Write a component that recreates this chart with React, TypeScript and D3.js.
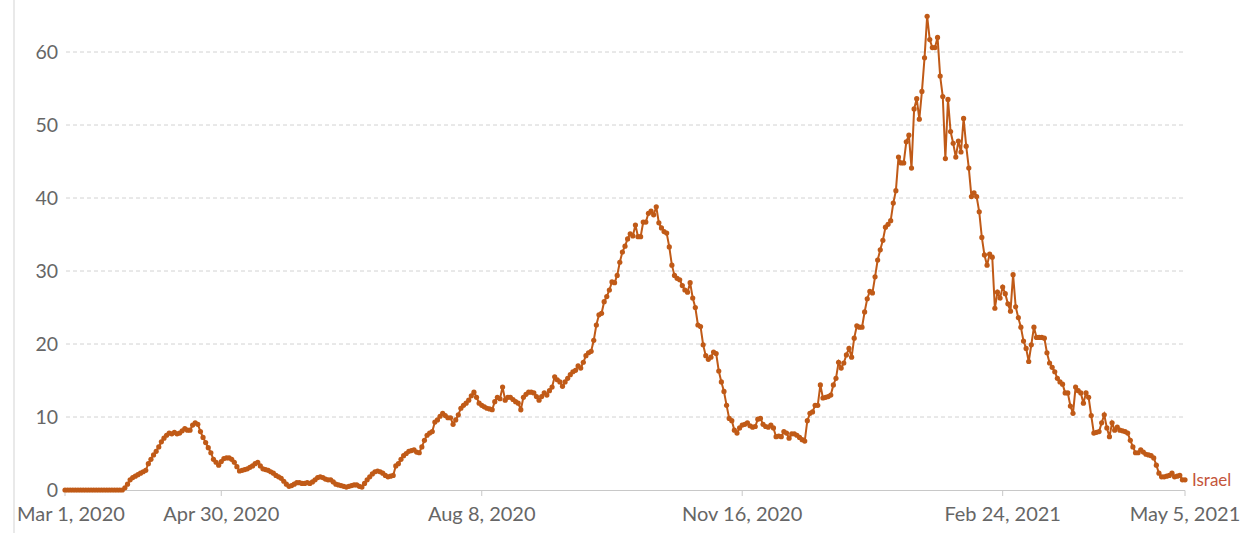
import React from "react";
import * as d3 from "d3";

// daily values, one per day starting Mar 1, 2020
const startDate = new Date(2020, 2, 1);
const seriesName = "Israel";
const dailyValues = [
  0, 0, 0, 0, 0, 0, 0, 0, 0, 0,
  0, 0, 0, 0, 0, 0, 0, 0, 0, 0,
  0, 0, 0, 0.3, 0.8, 1.4, 1.7, 1.9, 2.1, 2.3,
  2.5, 2.7, 3.6, 4.2, 4.8, 5.3, 5.9, 6.6, 7.1, 7.5,
  7.8, 7.7, 7.9, 7.7, 7.8, 8.1, 8.4, 8.2, 8.2, 8.9,
  9.2, 9.0, 8.0, 7.2, 6.5, 5.8, 5.1, 4.2, 3.8, 3.4,
  3.9, 4.3, 4.4, 4.4, 4.2, 3.8, 3.2, 2.6, 2.7, 2.8,
  2.9, 3.1, 3.3, 3.6, 3.8, 3.3, 2.9, 2.8, 2.7, 2.5,
  2.3, 2.0, 1.8, 1.6, 1.2, 0.8, 0.5, 0.6, 0.8, 1.0,
  1.0, 0.9, 0.9, 1.0, 0.9, 1.1, 1.4, 1.7, 1.8, 1.7,
  1.5, 1.4, 1.4, 1.1, 0.8, 0.7, 0.6, 0.5, 0.4, 0.5,
  0.6, 0.7, 0.7, 0.5, 0.4, 0.9, 1.4, 1.8, 2.2, 2.5,
  2.6, 2.5, 2.3, 2.0, 1.8, 1.9, 2.0, 3.3, 3.6, 4.2,
  4.7, 5.0, 5.3, 5.4, 5.5, 5.2, 5.1, 5.9, 6.8, 7.5,
  7.8, 8.0, 9.3, 9.6, 10.1, 10.5, 10.2, 9.9, 9.9, 9.0,
  9.6, 10.3, 11.2, 11.6, 11.9, 12.3, 12.9, 13.4, 12.7, 11.9,
  11.6, 11.4, 11.2, 11.1, 11.0, 12.1, 12.7, 12.5, 14.1, 12.3,
  12.7, 12.7, 12.4, 12.1, 11.9, 11.0, 12.7, 13.1, 13.4, 13.4,
  13.3, 12.8, 12.3, 12.8, 13.3, 13.0, 13.6, 14.1, 15.5, 15.1,
  14.8, 14.2, 14.8, 15.3, 15.8, 16.2, 16.4, 17.0, 16.7, 17.5,
  18.4, 18.8, 19.0, 20.5, 22.6, 24.0, 24.2, 25.8, 26.5, 27.4,
  28.5, 28.4, 29.4, 31.2, 32.6, 33.4, 34.4, 35.1, 34.8, 36.3,
  34.7, 34.7, 36.7, 36.7, 37.9, 38.2, 37.7, 38.8, 36.6, 35.9,
  35.4, 35.2, 33.3, 30.8, 29.4, 29.0, 28.8, 28.0, 27.4, 27.1,
  28.4, 26.3, 25.0, 22.6, 22.4, 19.9, 18.4, 17.9, 18.2, 18.9,
  18.7, 16.3, 14.8, 13.5, 11.6, 9.8, 9.5, 8.2, 7.8, 8.5,
  8.9, 9.0, 9.2, 8.8, 8.6, 8.7, 9.7, 9.8, 9.0, 8.7,
  8.6, 8.9, 8.5, 7.3, 7.4, 7.3, 8.0, 7.8, 7.1, 7.7,
  7.7, 7.5, 7.2, 6.9, 6.7, 9.5, 10.5, 10.7, 11.6, 11.6,
  14.4, 12.6, 12.7, 12.8, 13.0, 14.4, 15.3, 17.5, 16.7, 17.4,
  18.5, 19.4, 18.2, 20.8, 22.5, 22.3, 22.3, 24.4, 26.2, 27.2,
  27.0, 29.2, 31.5, 32.9, 34.2, 36.0, 36.4, 36.9, 39.3, 41.0,
  45.6, 44.8, 44.8, 47.7, 48.6, 44.1, 52.2, 53.6, 50.8, 54.6,
  59.2, 64.9, 61.7, 60.6, 60.6, 62.0, 56.7, 53.9, 45.4, 53.5,
  49.1, 47.5, 45.6, 47.8, 46.3, 50.9, 47.1, 44.1, 40.2, 40.7,
  40.2, 38.1, 34.6, 32.2, 30.8, 32.3, 31.9, 24.9, 27.1, 26.3,
  27.8, 26.9, 25.5, 24.5, 29.5, 25.1, 23.6, 22.3, 20.4, 19.4,
  17.6, 19.9, 22.3, 20.9, 20.9, 20.9, 20.8, 18.8, 17.4, 16.8,
  16.2, 15.3, 14.8, 14.5, 13.3, 13.3, 11.5, 10.5, 14.1, 13.6,
  13.3, 11.9, 13.3, 12.7, 10.2, 7.8, 7.9, 8.0, 9.2, 10.3,
  8.5, 7.3, 9.2, 8.2, 8.6, 8.2, 8.1, 8.0, 7.8, 6.8,
  5.9, 5.1, 5.1, 5.5, 5.2, 4.9, 4.8, 4.7, 4.4, 3.4,
  2.3, 1.8, 1.8, 1.9, 2.0, 2.3, 1.8, 1.9, 2.0, 1.4,
  1.4,
];

const yTicks = [0, 10, 20, 30, 40, 50, 60];
const xTickDates = [
  new Date(2020, 2, 1),
  new Date(2020, 3, 30),
  new Date(2020, 7, 8),
  new Date(2020, 10, 16),
  new Date(2021, 1, 24),
  new Date(2021, 4, 5),
];
const xTickLabels = ["Mar 1, 2020", "Apr 30, 2020", "Aug 8, 2020", "Nov 16, 2020", "Feb 24, 2021", "May 5, 2021"];

const lineColor = "#c05a17";
const font = "Lato, 'Noto Sans', sans-serif";

export default function App() {
  const width = 1245;
  const height = 533;

  const data = dailyValues.map((v, i) => ({ date: d3.timeDay.offset(startDate, i), value: v }));

  const x = d3
    .scaleTime()
    .domain([startDate, data[data.length - 1].date])
    .range([65, 1185]);

  const y = d3.scaleLinear().domain([0, 60]).range([490, 52]);

  const line = d3
    .line<{ date: Date; value: number }>()
    .x(d => x(d.date))
    .y(d => y(d.value));

  const last = data[data.length - 1];

  return (
    <svg
      width={width}
      height={height}
      style={{ position: "absolute", left: 0, top: 0, background: "#fff" }}
      fontFamily={font}
    >
      {/* left panel border */}
      <line x1={14} x2={14} y1={0} y2={height} stroke="#e2e2e2" strokeWidth={1.5} />

      {/* grid + y labels */}
      {yTicks.map(t => (
        <g key={t}>
          {t > 0 && (
            <line
              x1={66}
              x2={1185}
              y1={y(t)}
              y2={y(t)}
              stroke="#d2d2d2"
              strokeDasharray="4,3"
            />
          )}
          <text
            x={58}
            y={y(t)}
            dy="0.35em"
            textAnchor="end"
            fontSize={19.5}
            fill="#666"
          >
            {t}
          </text>
        </g>
      ))}

      {/* x axis */}
      <line x1={65} x2={1185} y1={490.5} y2={490.5} stroke="#c8c8c8" />
      {xTickDates.map((d, i) => (
        <g key={i}>
          <line x1={x(d)} x2={x(d)} y1={490.5} y2={496} stroke="#c8c8c8" />
          <text
            x={i === 0 ? 17 : x(d)}
            y={521}
            textAnchor={i === 0 ? "start" : "middle"}
            fontSize={20}
            fill="#666"
          >
            {xTickLabels[i]}
          </text>
        </g>
      ))}

      {/* series */}
      <path d={line(data) || ""} fill="none" stroke={lineColor} strokeWidth={2} />
      {data.map((d, i) => (
        <circle key={i} cx={x(d.date)} cy={y(d.value)} r={2.6} fill={lineColor} />
      ))}

      <text x={x(last.date) + 7} y={y(last.value)} dy="0.35em" fontSize={17} fill="#c4553b">
        {seriesName}
      </text>
    </svg>
  );
}
